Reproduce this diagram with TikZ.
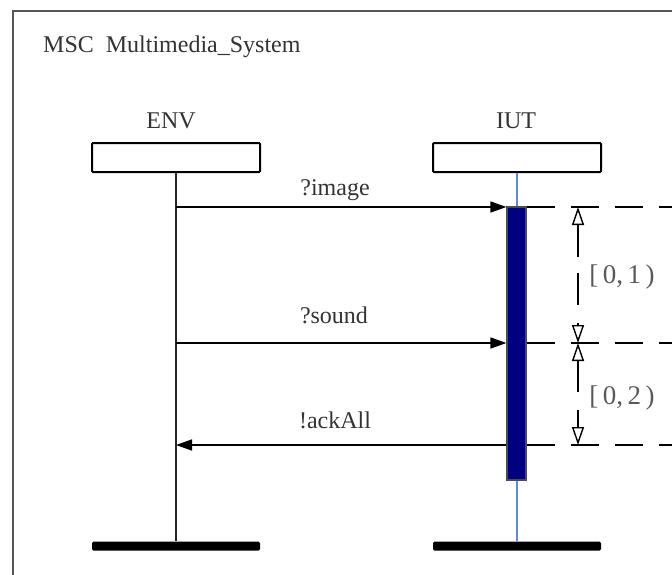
\documentclass[tikz,border=0pt]{standalone}
\usepackage{fontspec}
\setmainfont{Liberation Serif}
\usetikzlibrary{arrows.meta}
\definecolor{navyfill}{HTML}{000080}
\definecolor{lifeblue}{HTML}{5B8BD8}
\definecolor{txt}{HTML}{333333}
\definecolor{frame}{HTML}{555555}
\tikzset{
  every node/.style={font=\fontsize{24}{28}\selectfont, text=txt},
  headbox/.style={draw=black, line width=2pt, rounded corners=1pt, minimum width=168pt, minimum height=29pt, inner sep=0pt, fill=white},
  endbar/.style={fill=black, rounded corners=1.5pt, minimum width=168pt, minimum height=9pt, inner sep=0pt},
  actbox/.style={draw=black!70, line width=1.2pt, fill=navyfill, minimum width=19pt, minimum height=273pt, inner sep=0pt},
  msg/.style={line width=1.5pt, -{Triangle[length=16pt,width=11pt]}},
  guide/.style={line width=1.5pt, dash pattern=on 28pt off 16pt},
  meas/.style={line width=1.4pt, -{Triangle[open,length=18pt,width=12pt]}},
  measline/.style={line width=1.4pt},
  bound/.style={font=\fontsize{27}{30}\selectfont, text=black!65}
}
\begin{document}
\begin{tikzpicture}[x=1pt,y=-1pt]
\useasboundingbox (0,0) rectangle (672,574);
\fill[white] (0,0) rectangle (672,574);
% frame
\draw[frame, line width=2.5pt] (13,580) -- (13,11) -- (680,11);
\node[anchor=base west, inner sep=0pt] (title) at (43,52) {MSC\ \ Multimedia\_System};

% instance heads
\node[anchor=base, inner sep=0pt] (envlabel) at (171,128) {ENV};
\node[anchor=base, inner sep=0pt] (iutlabel) at (516,128) {IUT};
\node[headbox] (env) at (176,157.5) {};
\node[headbox] (iut) at (517,157.5) {};
\node[endbar] (envend) at (176,546) {};
\node[endbar] (iutend) at (517,546) {};

% lifelines
\draw[line width=2pt, black!85] (env.south) -- (envend.north);
\draw[line width=1.2pt, lifeblue] (iut.south) -- (iutend.north);

% activation
\node[actbox] (act) at (516.5,343.5) {};

% lifeline points
\coordinate (e1) at (176,207);
\coordinate (e2) at (176,343);
\coordinate (e3) at (176,445);

% messages
\draw[msg] (e1) -- (e1 -| act.west);
\draw[msg] (e2) -- (e2 -| act.west);
\draw[msg] (e3 -| act.west) -- (e3);
\node[anchor=base, inner sep=0pt] (m1) at (335,195) {?image};
\node[anchor=base, inner sep=0pt] (m2) at (334,323) {?sound};
\node[anchor=base, inner sep=0pt] (m3) at (335,428) {!ackAll};

% guide lines
\draw[guide] (e1 -| act.east) -- (680,207);
\draw[guide] (e2 -| act.east) -- (680,343);
\draw[guide] (e3 -| act.east) -- (680,445);

% time constraint 1
\draw[meas] (578,257) -- (578,207);
\draw[measline] (578,273) -- (578,305);
\draw[meas] (578,323) -- (578,343);
\node[bound, inner sep=0pt] (b1) at (622,277) {[\,0,\,1\,)};

% time constraint 2
\draw[meas] (578,392) -- (578,343);
\draw[meas] (578,410) -- (578,445);
\node[bound, inner sep=0pt] (b2) at (622,398) {[\,0,\,2\,)};
\end{tikzpicture}
\end{document}
